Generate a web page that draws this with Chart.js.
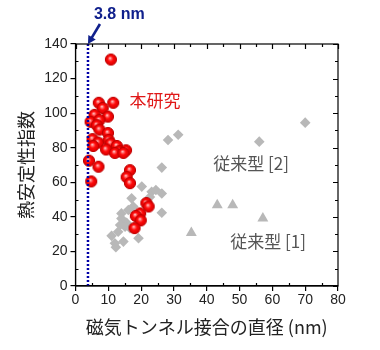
<!DOCTYPE html>
<html>
<head>
<meta charset="utf-8">
<script src="https://cdn.jsdelivr.net/npm/chart.js@4"></script>
<style>
  html, body { margin: 0; padding: 0; background: #fff; }
  #wrap { width: 380px; height: 350px; }
</style>
</head>
<body>
<div id="wrap"><canvas id="chart"></canvas></div>
<script>
// This work (red spheres)
const OURS_X = [10.8, 7.1, 11.5, 8.3, 5.8, 9.9, 4.6, 7.3, 6.5, 7.3, 9.9, 5.2, 6.9, 10.1, 10.7, 9.3, 12.6, 13.4, 15.4, 12.0, 14.6, 5.4, 4.1, 7.0, 4.8, 16.6, 15.6, 16.6, 21.6, 22.3, 19.7, 18.4, 19.9, 18.0];
const OURS_Y = [131, 106, 106, 103, 99, 98, 95, 96, 93, 90.5, 88.5, 85, 83, 84.5, 82.5, 79, 81, 78, 78.5, 77, 77, 81, 72.5, 69, 60.5, 67, 63, 59.5, 48, 46, 42, 40.5, 38, 33.5];
// Conventional type [2] (diamonds)
const CONV2_X = [70, 56, 31.3, 28.2, 26.3, 20.2, 23.2, 24.5, 26.3, 22.7, 17.1, 26.3, 17.6, 16.1, 14.0, 14.0, 15.6, 13.6, 15.1, 16.6, 13.0, 11.0, 19.2, 14.6, 12.0, 12.3];
const CONV2_Y = [94.5, 83.5, 87.5, 84.5, 68.5, 57.5, 54.5, 55.5, 53.5, 51.5, 50.7, 42.4, 46, 44, 42, 39, 36.5, 35.3, 34.3, 33.4, 31.4, 29, 27.6, 25.7, 24.7, 22.4];
// Conventional type [1] (triangles)
const CONV1_X = [43.2, 47.9, 57.1, 35.3];
const CONV1_Y = [46.8, 46.8, 39.1, 30.8];
// minimum diameter marker
const LIMIT_X = 3.8;
const LIMIT_LABEL = '3.8 nm';

const X_TITLE = '磁気トンネル接合の直径 (nm)';
const Y_TITLE = '熱安定性指数';

const NOTES = [
  { text: '本研究', x: 24.2, y: 107.5, color: '#e01818' },
  { text: '従来型 [2]', x: 53.5, y: 71, color: '#555' },
  { text: '従来型 [1]', x: 58.7, y: 26, color: '#555' },
];

const JP = '"Noto Sans CJK JP", "Noto Sans", sans-serif';
const LAT = '"Liberation Sans", Arial, sans-serif';

const pts = (xs, ys) => xs.map((x, i) => ({ x, y: ys[i] }));

// shaded red ball used as point style
function sphere(r) {
  const c = document.createElement('canvas');
  const s = Math.ceil(r * 2 + 2);
  c.width = s; c.height = s;
  const g = c.getContext('2d');
  const m = s / 2;
  const grad = g.createRadialGradient(m - 1, m - 1.5, 0, m, m, r);
  grad.addColorStop(0, '#ffe8e8');
  grad.addColorStop(0.22, '#ff7070');
  grad.addColorStop(0.5, '#ff0a0a');
  grad.addColorStop(1, '#d80000');
  g.beginPath();
  g.arc(m, m, r, 0, Math.PI * 2);
  g.fillStyle = grad;
  g.fill();
  g.lineWidth = 1;
  g.strokeStyle = '#c00000';
  g.stroke();
  return c;
}

const frameTicks = {
  id: 'frameTicks',
  afterDraw(chart) {
    const { ctx, chartArea: a, scales: { x, y } } = chart;
    ctx.save();
    ctx.strokeStyle = '#000';
    ctx.lineWidth = 1.2;
    ctx.strokeRect(a.left, a.top, a.right - a.left, a.bottom - a.top);
    ctx.beginPath();
    for (let v = x.min; v <= x.max; v += 5) {
      const px = Math.round(x.getPixelForValue(v)) + 0.5;
      const major = v % 10 === 0;
      ctx.moveTo(px, a.top); ctx.lineTo(px, a.top + (major ? 5 : 3));
      if (!major) { ctx.moveTo(px, a.bottom); ctx.lineTo(px, a.bottom - 3); }
    }
    for (let v = y.min; v <= y.max; v += 10) {
      const py = Math.round(y.getPixelForValue(v)) + 0.5;
      const major = v % 20 === 0;
      ctx.moveTo(a.right, py); ctx.lineTo(a.right - (major ? 5 : 3), py);
      if (!major) { ctx.moveTo(a.left, py); ctx.lineTo(a.left + 3, py); }
    }
    ctx.stroke();

    // notes
    ctx.textAlign = 'center';
    ctx.textBaseline = 'middle';
    ctx.font = '17px ' + JP;
    NOTES.forEach((n) => {
      ctx.fillStyle = n.color;
      ctx.fillText(n.text, x.getPixelForValue(n.x), y.getPixelForValue(n.y));
    });

    // 3.8 nm arrow
    const navy = '#10208c';
    const tipX = x.getPixelForValue(LIMIT_X);
    const tipY = y.getPixelForValue(y.max);
    const tailX = tipX + 12, tailY = tipY - 20;
    const ang = Math.atan2(tipY - tailY, tipX - tailX);
    ctx.strokeStyle = navy;
    ctx.fillStyle = navy;
    ctx.lineWidth = 2.6;
    ctx.beginPath();
    ctx.moveTo(tailX, tailY);
    ctx.lineTo(tipX - Math.cos(ang) * 6, tipY - Math.sin(ang) * 6);
    ctx.stroke();
    ctx.beginPath();
    ctx.moveTo(tipX, tipY);
    ctx.lineTo(tipX - Math.cos(ang - 0.5) * 9, tipY - Math.sin(ang - 0.5) * 9);
    ctx.lineTo(tipX - Math.cos(ang + 0.5) * 9, tipY - Math.sin(ang + 0.5) * 9);
    ctx.closePath();
    ctx.fill();
    ctx.font = 'bold 16px ' + LAT;
    ctx.textAlign = 'left';
    ctx.fillText(LIMIT_LABEL, tailX - 6, tailY - 9);
    ctx.restore();
  },
};

new Chart(document.getElementById('chart'), {
  type: 'scatter',
  data: {
    datasets: [
      {
        type: 'line',
        data: [{ x: LIMIT_X, y: 0 }, { x: LIMIT_X, y: 140 }],
        borderColor: '#0000a8',
        borderWidth: 2.5,
        borderDash: [2, 2],
        pointRadius: 0,
        fill: false,
      },
      { data: pts(OURS_X, OURS_Y), pointStyle: sphere(5.6), pointRadius: 6 },
      { data: pts(CONV1_X, CONV1_Y), pointStyle: 'triangle', pointRadius: 6.3, backgroundColor: '#b8b8b8', borderColor: '#b8b8b8', borderWidth: 0 },
      { data: pts(CONV2_X, CONV2_Y), pointStyle: 'rectRot', pointRadius: 5.3, backgroundColor: '#b8b8b8', borderColor: '#b8b8b8', borderWidth: 0 },
    ],
  },
  options: {
    responsive: true,
    maintainAspectRatio: false,
    animation: false,
    layout: { padding: { left: 0, right: 42, top: 44, bottom: 0 } },
    plugins: { legend: { display: false }, tooltip: { enabled: false } },
    scales: {
      x: {
        type: 'linear', min: 0, max: 80,
        afterFit: (s) => { s.height = 64; },
        ticks: { stepSize: 10, color: '#222', font: { family: LAT, size: 14 }, padding: 1, maxRotation: 0 },
        grid: { drawOnChartArea: false, drawTicks: true, tickLength: 5, color: '#000', lineWidth: 1.2 },
        border: { display: true, color: '#000', width: 1.2 },
        title: { display: true, text: X_TITLE, color: '#222', font: { family: JP, size: 18 }, padding: { top: 4, bottom: 12 } },
      },
      y: {
        type: 'linear', min: 0, max: 140,
        afterFit: (s) => { s.width = 75.5; },
        ticks: { stepSize: 20, color: '#222', font: { family: LAT, size: 14 }, padding: 3 },
        grid: { drawOnChartArea: false, drawTicks: true, tickLength: 5, color: '#000', lineWidth: 1.2 },
        border: { display: true, color: '#000', width: 1.2 },
        title: { display: true, text: Y_TITLE, color: '#222', font: { family: JP, size: 18 }, padding: { top: 15, bottom: 0 } },
      },
    },
  },
  plugins: [frameTicks],
});
</script>
</body>
</html>
